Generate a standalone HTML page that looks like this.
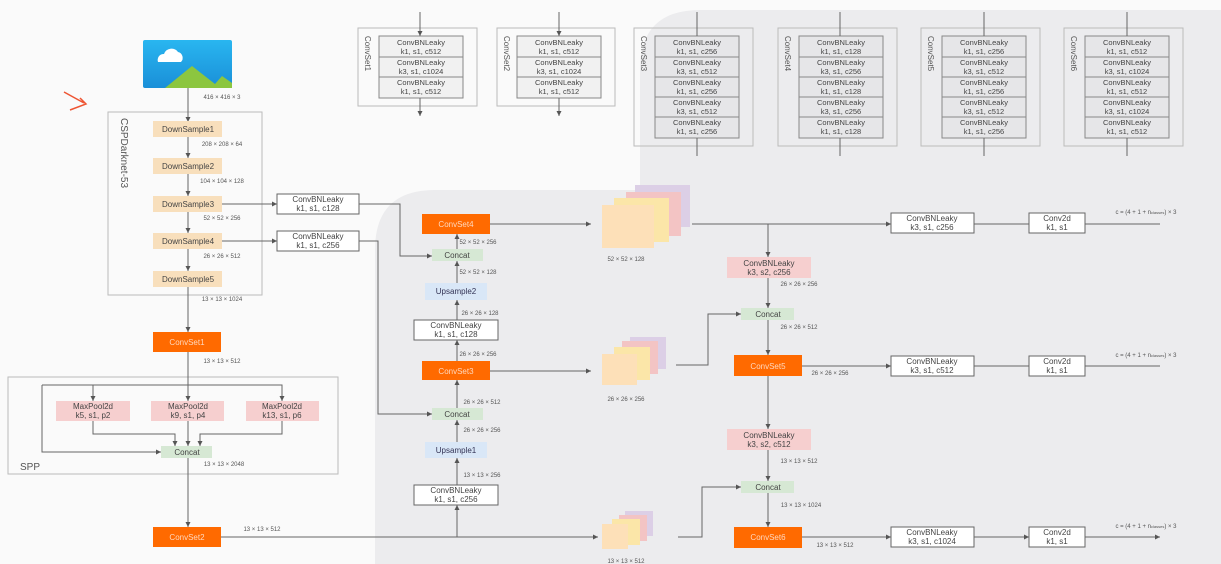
<!DOCTYPE html>
<html><head><meta charset="utf-8"><style>
html,body{margin:0;padding:0;background:#fafafa;}
svg{display:block;font-family:"Liberation Sans",sans-serif;}
</style></head><body>
<svg width="1221" height="564" viewBox="0 0 1221 564" xmlns="http://www.w3.org/2000/svg">
<defs>
<marker id="a" markerWidth="6" markerHeight="6" refX="5" refY="3" orient="auto"><path d="M0,0.5 L5,3 L0,5.5z" fill="#555"/></marker>
<linearGradient id="sky" x1="0" y1="0" x2="0" y2="1"><stop offset="0" stop-color="#29b6f0"/><stop offset="1" stop-color="#1a8fd8"/></linearGradient>
</defs>
<rect width="1221" height="564" fill="#fafafa"/>
<!-- gray region -->
<path d="M700,10 H1221 V564 H375 V250 Q375,190 435,190 H640 V70 Q640,10 700,10z" fill="#ececee"/>

<g stroke="#666" stroke-width="1" fill="none">
<!-- ConvSet headers -->
<g id="cs">
<rect x="358" y="28" width="119" height="78" stroke="#bbb"/>
<rect x="379" y="36" width="84" height="62" fill="#f1f1f1" stroke="#888"/>
<line x1="379" y1="57" x2="463" y2="57" stroke="#888"/><line x1="379" y1="77" x2="463" y2="77" stroke="#888"/>
<line x1="420" y1="12" x2="420" y2="36" marker-end="url(#a)"/><line x1="420" y1="98" x2="420" y2="116" marker-end="url(#a)"/>
<rect x="497" y="28" width="118" height="78" stroke="#bbb"/>
<rect x="517" y="36" width="84" height="62" fill="#f1f1f1" stroke="#888"/>
<line x1="517" y1="57" x2="601" y2="57" stroke="#888"/><line x1="517" y1="77" x2="601" y2="77" stroke="#888"/>
<line x1="559" y1="12" x2="559" y2="36" marker-end="url(#a)"/><line x1="559" y1="98" x2="559" y2="116" marker-end="url(#a)"/>
</g>
<g stroke="#888">
<rect x="634" y="28" width="119" height="118" stroke="#bbb"/><rect x="655" y="36" width="84" height="102" fill="#e6e6e8"/>
<path d="M655,57H739M655,77H739M655,97H739M655,117H739"/>
<rect x="778" y="28" width="119" height="118" stroke="#bbb"/><rect x="799" y="36" width="84" height="102" fill="#e6e6e8"/>
<path d="M799,57H883M799,77H883M799,97H883M799,117H883"/>
<rect x="921" y="28" width="119" height="118" stroke="#bbb"/><rect x="942" y="36" width="84" height="102" fill="#e6e6e8"/>
<path d="M942,57H1026M942,77H1026M942,97H1026M942,117H1026"/>
<rect x="1064" y="28" width="119" height="118" stroke="#bbb"/><rect x="1085" y="36" width="84" height="102" fill="#e6e6e8"/>
<path d="M1085,57H1169M1085,77H1169M1085,97H1169M1085,117H1169"/>
</g>
<path d="M697,12V36M697,138V156M840,12V36M840,138V156M984,12V36M984,138V156M1127,12V36M1127,138V156"/>

<!-- backbone -->
<rect x="108" y="112" width="154" height="183" stroke="#bbb"/>
<line x1="188" y1="88" x2="188" y2="122" marker-end="url(#a)"/>
<line x1="188" y1="137" x2="188" y2="158" marker-end="url(#a)"/>
<line x1="188" y1="174" x2="188" y2="196" marker-end="url(#a)"/>
<line x1="188" y1="212" x2="188" y2="233" marker-end="url(#a)"/>
<line x1="188" y1="249" x2="188" y2="271" marker-end="url(#a)"/>
<line x1="188" y1="287" x2="188" y2="332" marker-end="url(#a)"/>
<line x1="222" y1="204" x2="277" y2="204" marker-end="url(#a)"/>
<line x1="222" y1="241" x2="277" y2="241" marker-end="url(#a)"/>
<rect x="277" y="194" width="82" height="20" fill="#fff"/>
<rect x="277" y="231" width="82" height="20" fill="#fff"/>
<path d="M359,204H400V256H432" marker-end="url(#a)"/>
<path d="M359,241H378V414H432" marker-end="url(#a)"/>
<!-- SPP -->
<rect x="8" y="377" width="330" height="97" stroke="#bbb"/>
<path d="M188,352V401" marker-end="url(#a)"/>
<path d="M42,385H282V401" marker-end="url(#a)"/>
<path d="M93,385V401" marker-end="url(#a)"/>
<path d="M42,385V452H161" marker-end="url(#a)"/>
<path d="M93,421V434H175V446" marker-end="url(#a)"/>
<path d="M188,421V446" marker-end="url(#a)"/>
<path d="M282,421V434H200V446" marker-end="url(#a)"/>
<path d="M188,458V527" marker-end="url(#a)"/>
<path d="M221,537H598" marker-end="url(#a)"/>
<!-- mid column -->
<path d="M457,537V505" marker-end="url(#a)"/>
<path d="M457,485V458" marker-end="url(#a)"/>
<path d="M457,442V420" marker-end="url(#a)"/>
<path d="M457,408V380" marker-end="url(#a)"/>
<path d="M457,361V340" marker-end="url(#a)"/>
<path d="M457,320V300" marker-end="url(#a)"/>
<path d="M457,283V261" marker-end="url(#a)"/>
<path d="M457,249V234" marker-end="url(#a)"/>
<path d="M490,224H591" marker-end="url(#a)"/>
<path d="M490,371H591" marker-end="url(#a)"/>
<rect x="414" y="320" width="84" height="20" fill="#fff"/>
<rect x="414" y="485" width="84" height="20" fill="#fff"/>
<!-- right column -->
<path d="M692,224H891" marker-end="url(#a)"/>
<path d="M768,224V257" marker-end="url(#a)"/>
<path d="M768,278V308" marker-end="url(#a)"/>
<path d="M676,365H708V314H741" marker-end="url(#a)"/>
<path d="M768,320V355" marker-end="url(#a)"/>
<path d="M768,376V429" marker-end="url(#a)"/>
<path d="M768,450V481" marker-end="url(#a)"/>
<path d="M678,537H702V487H741" marker-end="url(#a)"/>
<path d="M768,493V527" marker-end="url(#a)"/>
<path d="M802,366H891" marker-end="url(#a)"/>
<path d="M802,537H891" marker-end="url(#a)"/>
<path d="M974,224H1029M974,366H1029M974,537H1029" marker-end="url(#a)"/>
<path d="M1085,224H1160M1085,366H1160M1085,537H1160" marker-end="url(#a)"/>
<rect x="891" y="213" width="83" height="20" fill="#fff"/><rect x="1029" y="213" width="56" height="20" fill="#fff"/>
<rect x="891" y="356" width="83" height="20" fill="#fff"/><rect x="1029" y="356" width="56" height="20" fill="#fff"/>
<rect x="891" y="527" width="83" height="20" fill="#fff"/><rect x="1029" y="527" width="56" height="20" fill="#fff"/>
</g>

<!-- filled nodes -->
<g stroke="none">
<rect x="143" y="40" width="89" height="48" rx="2" fill="url(#sky)"/>
<path d="M165,88 L192,66 L215,84 L222,76 L232,83 V88z" fill="#8cc63f"/>
<path d="M158,62 a6,6 0 0 1 6,-8 a8,8 0 0 1 14,-2 a6,6 0 0 1 3,10z" fill="#fff"/>
<g fill="#f8dfbc">
<rect x="153" y="121" width="69" height="16"/><rect x="153" y="158" width="69" height="16"/><rect x="153" y="196" width="69" height="16"/><rect x="153" y="233" width="69" height="16"/><rect x="153" y="271" width="69" height="16"/>
</g>
<g fill="#ff6a00">
<rect x="153" y="332" width="68" height="20"/><rect x="153" y="527" width="68" height="20"/>
<rect x="422" y="214" width="68" height="20"/><rect x="422" y="361" width="68" height="19"/>
<rect x="734" y="355" width="68" height="21"/><rect x="734" y="527" width="68" height="21"/>
</g>
<g fill="#f6cfcf">
<rect x="56" y="401" width="74" height="20"/><rect x="151" y="401" width="73" height="20"/><rect x="246" y="401" width="73" height="20"/>
<rect x="727" y="257" width="84" height="21"/><rect x="727" y="429" width="84" height="21"/>
</g>
<g fill="#d6e8d4">
<rect x="161" y="446" width="51" height="12"/><rect x="432" y="249" width="51" height="12"/><rect x="432" y="408" width="51" height="12"/>
<rect x="741" y="308" width="53" height="12"/><rect x="741" y="481" width="53" height="12"/>
</g>
<g fill="#d9e7f7"><rect x="425" y="283" width="62" height="17"/><rect x="425" y="442" width="62" height="16"/></g>
<!-- feature maps -->
<rect x="635" y="185" width="55" height="42" fill="#dccfe6"/><rect x="626" y="192" width="55" height="44" fill="#f3c4c4"/>
<rect x="614" y="198" width="55" height="44" fill="#fbe6a8"/><rect x="602" y="205" width="52" height="43" fill="#fde0b8"/>
<rect x="630" y="337" width="36" height="32" fill="#dccfe6"/><rect x="622" y="341" width="36" height="33" fill="#f3c4c4"/>
<rect x="614" y="347" width="36" height="33" fill="#fbe6a8"/><rect x="602" y="354" width="35" height="31" fill="#fde0b8"/>
<rect x="625" y="511" width="28" height="25" fill="#dccfe6"/><rect x="619" y="515" width="28" height="26" fill="#f3c4c4"/>
<rect x="612" y="519" width="28" height="26" fill="#fbe6a8"/><rect x="602" y="524" width="26" height="25" fill="#fde0b8"/>
</g>
<path d="M64,92 L84,103 M70,110 L86,104 L80,98" stroke="#e53" stroke-width="1.5" fill="none"/>

<!-- text -->
<g font-size="7.5" fill="#444" text-anchor="middle">
<g>
<text x="421" y="45">ConvBNLeaky</text><text x="421" y="54">k1, s1, c512</text>
<text x="421" y="65">ConvBNLeaky</text><text x="421" y="74">k3, s1, c1024</text>
<text x="421" y="85">ConvBNLeaky</text><text x="421" y="94">k1, s1, c512</text>
<text x="559" y="45">ConvBNLeaky</text><text x="559" y="54">k1, s1, c512</text>
<text x="559" y="65">ConvBNLeaky</text><text x="559" y="74">k3, s1, c1024</text>
<text x="559" y="85">ConvBNLeaky</text><text x="559" y="94">k1, s1, c512</text>
</g>
<g>
<text x="697" y="45">ConvBNLeaky</text><text x="697" y="54">k1, s1, c256</text><text x="697" y="65">ConvBNLeaky</text><text x="697" y="74">k3, s1, c512</text><text x="697" y="85">ConvBNLeaky</text><text x="697" y="94">k1, s1, c256</text><text x="697" y="105">ConvBNLeaky</text><text x="697" y="114">k3, s1, c512</text><text x="697" y="125">ConvBNLeaky</text><text x="697" y="134">k1, s1, c256</text>
<text x="841" y="45">ConvBNLeaky</text><text x="841" y="54">k1, s1, c128</text><text x="841" y="65">ConvBNLeaky</text><text x="841" y="74">k3, s1, c256</text><text x="841" y="85">ConvBNLeaky</text><text x="841" y="94">k1, s1, c128</text><text x="841" y="105">ConvBNLeaky</text><text x="841" y="114">k3, s1, c256</text><text x="841" y="125">ConvBNLeaky</text><text x="841" y="134">k1, s1, c128</text>
<text x="984" y="45">ConvBNLeaky</text><text x="984" y="54">k1, s1, c256</text><text x="984" y="65">ConvBNLeaky</text><text x="984" y="74">k3, s1, c512</text><text x="984" y="85">ConvBNLeaky</text><text x="984" y="94">k1, s1, c256</text><text x="984" y="105">ConvBNLeaky</text><text x="984" y="114">k3, s1, c512</text><text x="984" y="125">ConvBNLeaky</text><text x="984" y="134">k1, s1, c256</text>
<text x="1127" y="45">ConvBNLeaky</text><text x="1127" y="54">k1, s1, c512</text><text x="1127" y="65">ConvBNLeaky</text><text x="1127" y="74">k3, s1, c1024</text><text x="1127" y="85">ConvBNLeaky</text><text x="1127" y="94">k1, s1, c512</text><text x="1127" y="105">ConvBNLeaky</text><text x="1127" y="114">k3, s1, c1024</text><text x="1127" y="125">ConvBNLeaky</text><text x="1127" y="134">k1, s1, c512</text>
</g>
<g font-size="8">
<text x="188" y="132">DownSample1</text><text x="188" y="169">DownSample2</text><text x="188" y="207">DownSample3</text><text x="188" y="244">DownSample4</text><text x="188" y="282">DownSample5</text>
<text x="318" y="202">ConvBNLeaky</text><text x="318" y="211">k1, s1, c128</text>
<text x="318" y="239">ConvBNLeaky</text><text x="318" y="248">k1, s1, c256</text>
<text x="93" y="409">MaxPool2d</text><text x="93" y="418">k5, s1, p2</text>
<text x="188" y="409">MaxPool2d</text><text x="188" y="418">k9, s1, p4</text>
<text x="282" y="409">MaxPool2d</text><text x="282" y="418">k13, s1, p6</text>
<text x="187" y="455">Concat</text><text x="457" y="258">Concat</text><text x="457" y="417">Concat</text><text x="768" y="317">Concat</text><text x="768" y="490">Concat</text>
<text x="456" y="294" fill="#335">Upsample2</text><text x="456" y="453" fill="#335">Upsample1</text>
<text x="456" y="328">ConvBNLeaky</text><text x="456" y="337">k1, s1, c128</text>
<text x="456" y="493">ConvBNLeaky</text><text x="456" y="502">k1, s1, c256</text>
<text x="769" y="266">ConvBNLeaky</text><text x="769" y="275">k3, s2, c256</text>
<text x="769" y="438">ConvBNLeaky</text><text x="769" y="447">k3, s2, c512</text>
<text x="932" y="221">ConvBNLeaky</text><text x="932" y="230">k3, s1, c256</text>
<text x="932" y="364">ConvBNLeaky</text><text x="932" y="373">k3, s1, c512</text>
<text x="932" y="535">ConvBNLeaky</text><text x="932" y="544">k3, s1, c1024</text>
<text x="1057" y="221">Conv2d</text><text x="1057" y="230">k1, s1</text>
<text x="1057" y="364">Conv2d</text><text x="1057" y="373">k1, s1</text>
<text x="1057" y="535">Conv2d</text><text x="1057" y="544">k1, s1</text>
</g>
<g fill="#ffd9bf" font-size="8">
<text x="187" y="345">ConvSet1</text><text x="187" y="540">ConvSet2</text><text x="456" y="227">ConvSet4</text><text x="456" y="374">ConvSet3</text><text x="768" y="369">ConvSet5</text><text x="768" y="540">ConvSet6</text>
</g>
<g font-size="6" fill="#555">
<text x="222" y="99">416 × 416 × 3</text><text x="222" y="146">208 × 208 × 64</text><text x="222" y="183">104 × 104 × 128</text><text x="222" y="220">52 × 52 × 256</text><text x="222" y="258">26 × 26 × 512</text><text x="222" y="301">13 × 13 × 1024</text>
<text x="222" y="363">13 × 13 × 512</text><text x="224" y="466">13 × 13 × 2048</text><text x="262" y="531">13 × 13 × 512</text>
<text x="478" y="244">52 × 52 × 256</text><text x="478" y="274">52 × 52 × 128</text><text x="480" y="315">26 × 26 × 128</text><text x="478" y="356">26 × 26 × 256</text><text x="482" y="404">26 × 26 × 512</text><text x="482" y="432">26 × 26 × 256</text><text x="482" y="477">13 × 13 × 256</text>
<text x="626" y="261">52 × 52 × 128</text><text x="626" y="401">26 × 26 × 256</text><text x="626" y="563">13 × 13 × 512</text>
<text x="799" y="286">26 × 26 × 256</text><text x="799" y="329">26 × 26 × 512</text><text x="830" y="375">26 × 26 × 256</text><text x="799" y="463">13 × 13 × 512</text><text x="801" y="507">13 × 13 × 1024</text><text x="835" y="547">13 × 13 × 512</text>
<text x="1146" y="214">c = (4 + 1 + n<tspan font-size="4">classes</tspan>) × 3</text>
<text x="1146" y="357">c = (4 + 1 + n<tspan font-size="4">classes</tspan>) × 3</text>
<text x="1146" y="528">c = (4 + 1 + n<tspan font-size="4">classes</tspan>) × 3</text>
</g>
</g>
<g font-size="8" fill="#555">
<text transform="translate(365,36) rotate(90)">ConvSet1</text>
<text transform="translate(504,36) rotate(90)">ConvSet2</text>
<text transform="translate(641,36) rotate(90)">ConvSet3</text>
<text transform="translate(785,36) rotate(90)">ConvSet4</text>
<text transform="translate(928,36) rotate(90)">ConvSet5</text>
<text transform="translate(1071,36) rotate(90)">ConvSet6</text>
<text transform="translate(121,118) rotate(90)" font-size="10">CSPDarknet-53</text>
<text x="20" y="470" font-size="10">SPP</text>
</g>
</svg>
</body></html>
